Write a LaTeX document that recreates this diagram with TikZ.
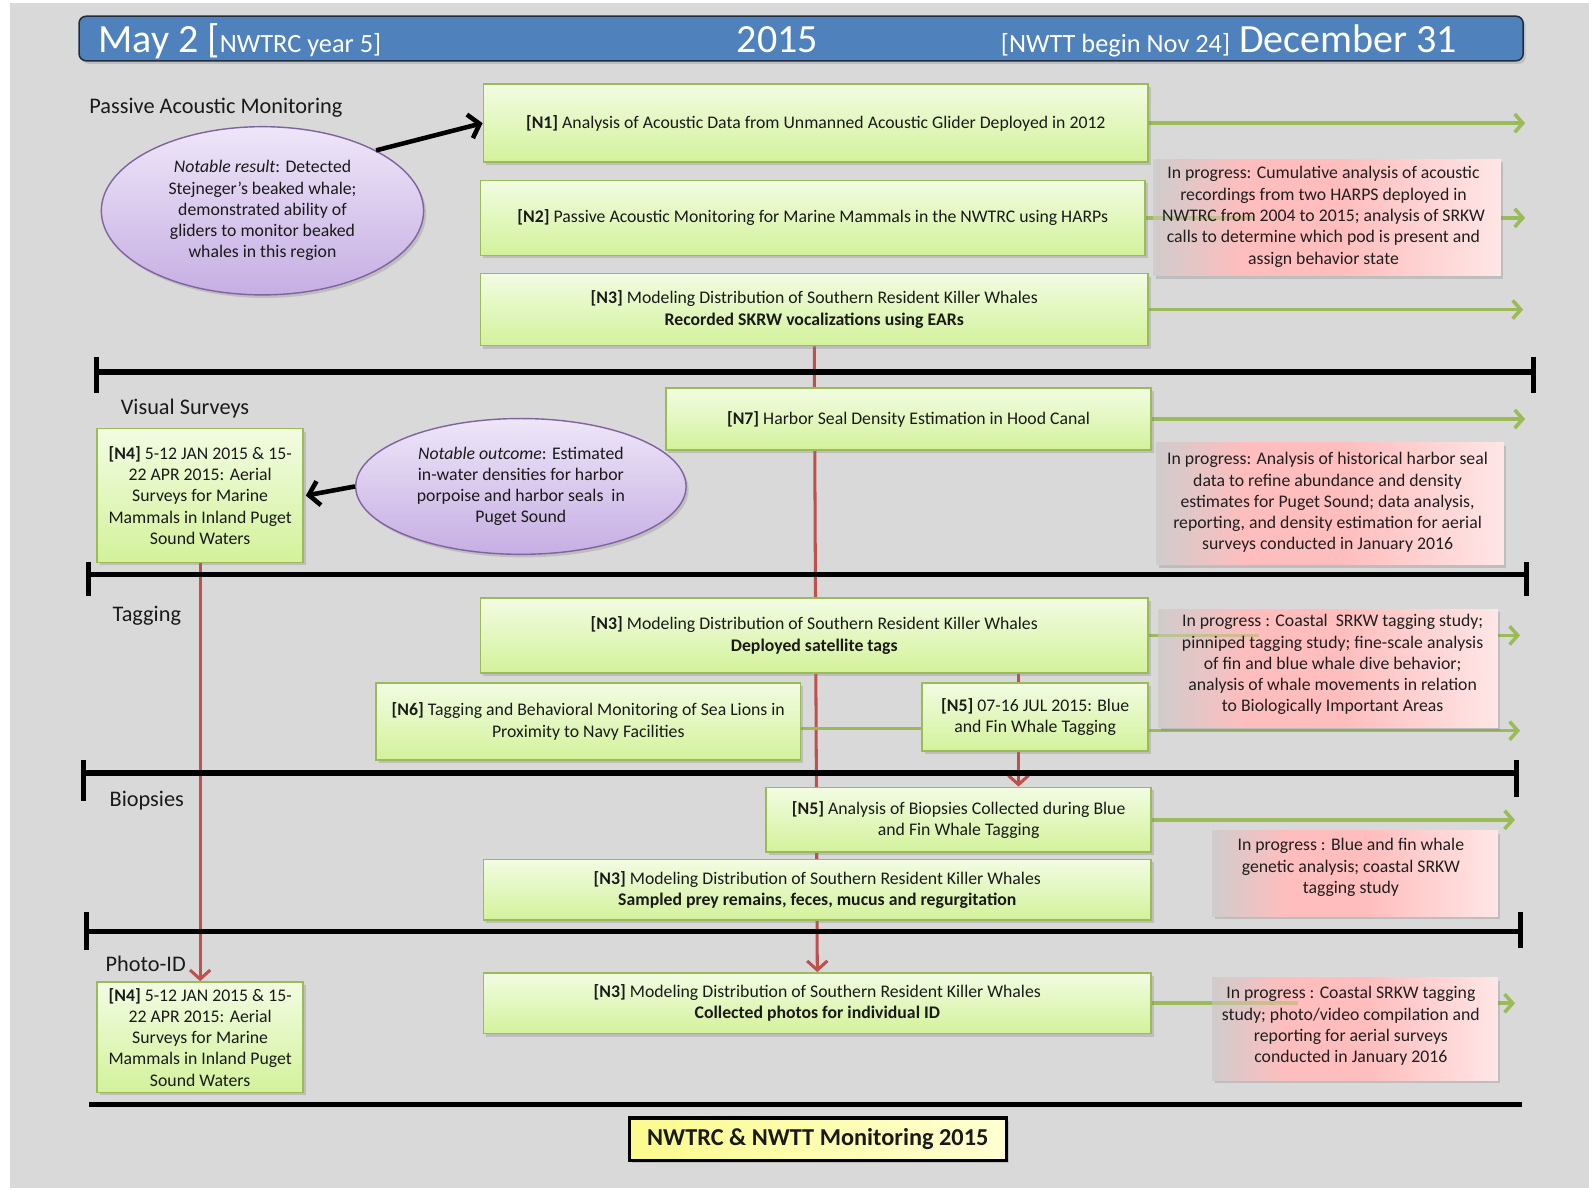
\documentclass[tikz,border=0pt]{standalone}
\usepackage{fontspec}
\setmainfont{Carlito}
\usetikzlibrary{arrows.meta,shapes.geometric,shadows,calc}
\definecolor{bgG}{HTML}{D9D9D9}
\definecolor{hdr}{HTML}{4F81BD}
\definecolor{hdrB}{HTML}{1F2D3F}
\definecolor{gTop}{HTML}{F2FCE2}
\definecolor{gBot}{HTML}{D3F29B}
\definecolor{gBrd}{HTML}{9BBB59}
\definecolor{gLine}{HTML}{9BBB59}
\definecolor{pTop}{HTML}{EEE6F8}
\definecolor{pBot}{HTML}{C6AEE3}
\definecolor{pBrd}{HTML}{8064A2}
\definecolor{rLine}{HTML}{C0504D}
\definecolor{pkG}{HTML}{D0CCCC}
\definecolor{pkA}{HTML}{FFBDBD}
\definecolor{pkB}{HTML}{FFE6E6}
\definecolor{yL}{HTML}{FBFB8E}
\definecolor{yR}{HTML}{FFFFD2}
\definecolor{txt}{HTML}{1A1A1A}
\pgfdeclarehorizontalshading{pinkfade}{100bp}{color(0bp)=(pkG); color(25bp)=(pkG); color(38bp)=(pkA); color(52bp)=(pkA); color(75bp)=(pkB); color(100bp)=(pkB)}
\pgfdeclarelayer{bglayer}
\pgfdeclarelayer{linelayer}
\pgfsetlayers{bglayer,linelayer,main}
\tikzset{
 bodytxt/.style={font=\fontsize{17.5}{21}\selectfont, text=txt, align=center},
 shad/.style={drop shadow={shadow xshift=2.5pt, shadow yshift=-3pt, opacity=0.3}},
 gbox/.style={bodytxt, draw=gBrd, line width=1.6pt, top color=gTop, bottom color=gBot, inner sep=0pt, shad},
 pell/.style={bodytxt, ellipse, draw=pBrd, line width=1.4pt, top color=pTop, bottom color=pBot, inner sep=0pt, shad},
 pinkbox/.style={shade, shading=pinkfade, draw=none, inner sep=0pt, shad},
 ptext/.style={bodytxt, text=black!88, inner sep=0pt},
 sepline/.style={line width=5.5pt, black, line cap=butt},
 sepcap/.style={line width=5pt, black, line cap=butt},
 garrow/.style={gLine, line width=3.5pt, -{Straight Barb[length=8pt, width=18pt]}},
 gline/.style={gLine, line width=3.5pt},
 gfaint/.style={gLine, line width=3.5pt, opacity=0.45},
 rarrow/.style={rLine, line width=3pt, -{Straight Barb[length=9pt, width=20pt]}},
 barrow/.style={black, line width=4.5pt, -{Straight Barb[length=10pt, width=24pt]}},
 sect/.style={font=\fontsize{22}{26}\selectfont, text=txt, anchor=base west, inner sep=0pt},
 hbig/.style={text=white, inner sep=0pt, font=\fontsize{39.5}{42}\selectfont},
}
\newcommand{\hsmall}{\fontsize{26}{28}\selectfont}
\begin{document}
\begin{tikzpicture}[x=1pt,y=-1pt]
\useasboundingbox (0,0) rectangle (1568,1175);
\begin{pgfonlayer}{bglayer}
\fill[white] (0,0) rectangle (1568,1175);
\fill[bgG] (10,3) rectangle (1568,1172);
\end{pgfonlayer}

% header
\node[draw=hdrB, line width=1.5pt, fill=hdr, rounded corners=7pt, minimum width=1425pt, minimum height=44pt, inner sep=0pt, shad] (hdr) at (790.5,38) {};
\node[hbig, anchor=base west] (hL) at (97,52) {May 2 [{\hsmall NWTRC year 5]}};
\node[hbig, anchor=base] (hC) at (767,52) {2015};
\node[hbig, anchor=base east] (hR) at (1438,52) {{\hsmall [NWTT begin Nov 24]} December 31};

% section labels
\node[sect] (s1) at (88,112) {Passive Acoustic Monitoring};
\node[sect] (s2) at (119,409) {Visual Surveys};
\node[sect] (s3) at (111,613) {Tagging};
\node[sect] (s4) at (108,796) {Biopsies};
\node[sect] (s5) at (104,959) {Photo-ID};

\coordinate (r3x) at (1005,0);
\coordinate (t1) at (1505,121.5);
\coordinate (t2) at (1505,215);
\coordinate (t3) at (1503,305.5);
\coordinate (t7) at (1505,413.5);
\coordinate (t3t) at (1500,627);
\coordinate (t5t) at (1500,721);
\coordinate (c65) at (0,719);
\coordinate (t5b) at (1495,809);
\coordinate (t3p) at (1495,990);

% green boxes
\node[gbox, minimum width=656pt, minimum height=77pt] (n1) at (805,121.5) {\textbf{[N1]} Analysis of Acoustic Data from Unmanned Acoustic Glider Deployed in 2012};
\node[gbox, minimum width=656pt, minimum height=74pt] (n2) at (802,215) {\textbf{[N2]} Passive Acoustic Monitoring for Marine Mammals in the NWTRC using HARPs};
\node[gbox, minimum width=659pt, minimum height=71pt] (n3a) at (803.5,305.5) {\textbf{[N3]} Modeling Distribution of Southern Resident Killer Whales\\ \textbf{Recorded SKRW vocalizations using EARs}};
\node[gbox, minimum width=479pt, minimum height=61pt] (n7) at (896.5,413.5) {\textbf{[N7]} Harbor Seal Density Estimation in Hood Canal};
\node[gbox, minimum width=203pt, minimum height=132pt] (n4a) at (197.5,489) {\textbf{[N4]} 5-12 JAN 2015 \& 15-\\22 APR 2015: Aerial\\Surveys for Marine\\Mammals in Inland Puget\\Sound Waters};
\node[gbox, minimum width=659pt, minimum height=74pt] (n3t) at (803.5,627) {\textbf{[N3]} Modeling Distribution of Southern Resident Killer Whales\\ \textbf{Deployed satellite tags}};
\node[gbox, minimum width=419pt, minimum height=76pt] (n6) at (580.5,712) {\textbf{[N6]} Tagging and Behavioral Monitoring of Sea Lions in\\Proximity to Navy Facilities};
\node[gbox, minimum width=223pt, minimum height=67pt] (n5t) at (1021.5,707.5) {\textbf{[N5]} 07-16 JUL 2015: Blue\\and Fin Whale Tagging};
\node[gbox, minimum width=380pt, minimum height=64pt] (n5b) at (946,809) {\textbf{[N5]} Analysis of Biopsies Collected during Blue\\and Fin Whale Tagging};
\node[gbox, minimum width=659pt, minimum height=60pt] (n3b) at (806.5,878) {\textbf{[N3]} Modeling Distribution of Southern Resident Killer Whales\\ \textbf{Sampled prey remains, feces, mucus and regurgitation}};
\node[gbox, minimum width=203pt, minimum height=109pt] (n4b) at (197.5,1023.5) {\textbf{[N4]} 5-12 JAN 2015 \& 15-\\22 APR 2015: Aerial\\Surveys for Marine\\Mammals in Inland Puget\\Sound Waters};
\node[gbox, minimum width=659pt, minimum height=60pt] (n3p) at (806.5,990) {\textbf{[N3]} Modeling Distribution of Southern Resident Killer Whales\\ \textbf{Collected photos for individual ID}};

% ellipses
\node[pell, minimum width=318pt, minimum height=166pt] (e1) at (259,208) {\textit{Notable result}: Detected\\Stejneger’s beaked whale;\\demonstrated ability of\\gliders to monitor beaked\\whales in this region};
\node[pell, minimum width=326pt, minimum height=134pt] (e2) at (514,480) {\textit{Notable outcome}: Estimated\\in-water densities for harbor\\porpoise and harbor seals\ \ in\\Puget Sound};

% connectors behind boxes
\begin{pgfonlayer}{linelayer}
\draw[rarrow] (n3a.south) -- (n3p.north);
\draw[rarrow] (n4a.south) -- (n4b.north);
\draw[rarrow] (n3t.south -| r3x) -- (n5b.north -| r3x);
\draw[garrow] (n1.east) -- (t1);
\draw[garrow] (n2.east) -- (t2);
\draw[garrow] (n3a.east) -- (t3);
\draw[garrow] (n7.east) -- (t7);
\draw[garrow] (n3t.east) -- (t3t);
\draw[garrow] (n5t.east |- t5t) -- (t5t);
\draw[gline] (n6.east |- c65) -- (n5t.west |- c65);
\draw[garrow] (n5b.east) -- (t5b);
\draw[garrow] (n3p.east) -- (t3p);
% separators
\draw[sepline] (95,367) -- (1513,367);
\draw[sepcap] (95,352) -- (95,388);
\draw[sepcap] (1513,352) -- (1513,388);
\draw[sepline] (87,567) -- (1506,567);
\draw[sepcap] (87,555) -- (87,588);
\draw[sepcap] (1506,555) -- (1506,588);
\draw[sepline] (82,763) -- (1496,763);
\draw[sepcap] (82,750) -- (82,790);
\draw[sepcap] (1496,750) -- (1496,786);
\draw[sepline] (85,919) -- (1500,919);
\draw[sepcap] (85,900) -- (85,937);
\draw[sepcap] (1500,900) -- (1500,935);
\draw[sepline] (88,1090) -- (1502,1090);
\end{pgfonlayer}

% black arrows
\draw[barrow] (e1.28) -- (n1.west);
\draw[barrow] (e2.west) -- ([xshift=2pt]n4a.east);

% pink boxes
\node[pinkbox, minimum width=343pt, minimum height=115pt] (p1) at (1309.5,214.5) {};
\draw[gfaint] (p1.west |- n2.east) -- ($(p1.west |- n2.east)+(100,0)$);
\node[ptext] (p1t) at (1306,214) {In progress: Cumulative analysis of acoustic\\recordings from two HARPS deployed in\\NWTRC from 2004 to 2015; analysis of SRKW\\calls to determine which pod is present and\\assign behavior state};
\node[pinkbox, minimum width=343pt, minimum height=120pt] (p2) at (1312.5,497) {};
\node[ptext] (p2t) at (1310,496) {In progress: Analysis of historical harbor seal\\data to refine abundance and density\\estimates for Puget Sound; data analysis,\\reporting, and density estimation for aerial\\surveys conducted in January 2016};
\node[pinkbox, minimum width=335pt, minimum height=117pt] (p3) at (1310.5,659.5) {};
\draw[gfaint] (p3.west |- n3t.east) -- ($(p3.west |- n3t.east)+(100,0)$);
\node[ptext] (p3t) at (1315,656) {In progress : Coastal\ \ SRKW tagging study;\\pinniped tagging study; fine-scale analysis\\of fin and blue whale dive behavior;\\analysis of whale movements in relation\\to Biologically Important Areas};
\node[pinkbox, minimum width=282pt, minimum height=84pt] (p4) at (1337,862) {};
\node[ptext] (p4t) at (1333,856) {In progress : Blue and fin whale\\genetic analysis; coastal SRKW\\tagging study};
\node[pinkbox, minimum width=282pt, minimum height=101pt] (p5) at (1337,1015.5) {};
\draw[gfaint] (p5.west |- n3p.east) -- ($(p5.west |- n3p.east)+(85,0)$);
\node[ptext] (p5t) at (1333,1012.5) {In progress : Coastal SRKW tagging\\study; photo/video compilation and\\reporting for aerial surveys\\conducted in January 2016};

% title
\node[draw=black, line width=3.5pt, left color=yL, right color=yR, minimum width=372pt, minimum height=42pt, inner sep=0pt, text=txt, font=\bfseries\fontsize{24}{28}\selectfont, shad] (ttl) at (807,1124) {NWTRC \& NWTT Monitoring 2015};
\end{tikzpicture}
\end{document}
